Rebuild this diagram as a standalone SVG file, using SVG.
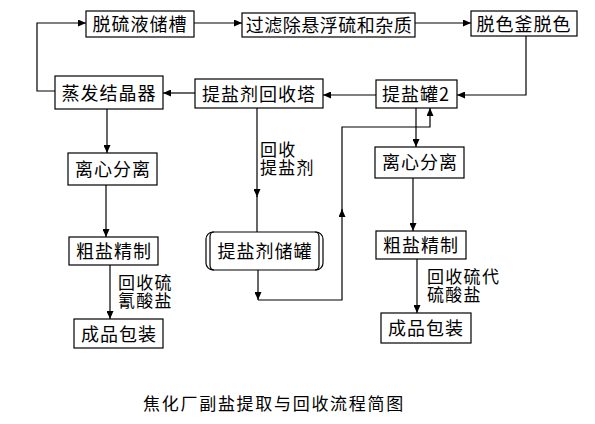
<svg xmlns="http://www.w3.org/2000/svg" width="595" height="424" viewBox="0 0 595 424">
<defs>
<marker id="ah" markerWidth="8" markerHeight="7" refX="8" refY="3.5" orient="auto" markerUnits="userSpaceOnUse"><path d="M0,0 L8,3.5 L0,7 z" fill="#000"/></marker>
<style>
.box{fill:#fff;stroke:#000;stroke-width:1.2}
.t{font-family:"Noto Sans CJK SC","Noto Sans CJK JP",sans-serif;font-size:18px;fill:#000;text-anchor:middle;letter-spacing:1px}
.l{font-family:"Noto Sans CJK SC","Noto Sans CJK JP",sans-serif;font-size:17px;fill:#000;letter-spacing:1.3px}
.c{fill:none;stroke:#000;stroke-width:1.2}
</style>
</defs>
<rect width="595" height="424" fill="#fff"/>
<g id="connectors">
<path class="c" d="M194,23 H242" marker-end="url(#ah)"/>
<path class="c" d="M415,23 H471" marker-end="url(#ah)"/>
<path class="c" d="M526,36 V95 H457" marker-end="url(#ah)"/>
<path class="c" d="M376,95 H323" marker-end="url(#ah)"/>
<path class="c" d="M195,93 H163" marker-end="url(#ah)"/>
<path class="c" d="M55,91 H37 V23 H86" marker-end="url(#ah)"/>
<path class="c" d="M107,109 V153" marker-end="url(#ah)"/>
<path class="c" d="M106,185 V237" marker-end="url(#ah)"/>
<path class="c" d="M110,265 V319" marker-end="url(#ah)"/>
<path class="c" d="M257,108 V197" marker-end="url(#ah)"/>
<path class="c" d="M257,196 V232"/>
<path class="c" d="M258,270 V300" marker-end="url(#ah)"/>
<path class="c" d="M258,300 H342 V210"/>
<path class="c" d="M342,215 V209" marker-end="url(#ah)"/>
<path class="c" d="M342,210 V127 H430 V108" marker-end="url(#ah)"/>
<path class="c" d="M416,108 V147" marker-end="url(#ah)"/>
<path class="c" d="M413,178 V231" marker-end="url(#ah)"/>
<path class="c" d="M417,259 V313" marker-end="url(#ah)"/>
<text class="l" x="260" y="156"><tspan x="260">回收</tspan><tspan x="260" dy="18">提盐剂</tspan></text>
<text class="l" x="118" y="289"><tspan x="118">回收硫</tspan><tspan x="118" dy="18">氰酸盐</tspan></text>
<text class="l" x="427" y="283"><tspan x="427">回收硫代</tspan><tspan x="427" dy="18">硫酸盐</tspan></text>
</g>
<g id="n1"><rect class="box" x="86" y="11" width="108" height="26"/><text class="t" x="140" y="31">脱硫液储槽</text></g>
<g id="n2"><rect class="box" x="242" y="13" width="173" height="24"/><text class="t" x="329" y="32" style="letter-spacing:0.5px">过滤除悬浮硫和杂质</text></g>
<g id="n3"><rect class="box" x="471" y="11" width="106" height="25"/><text class="t" x="524" y="31">脱色釜脱色</text></g>
<g id="n4"><rect class="box" x="376" y="80" width="81" height="28"/><text class="t" x="416" y="101">提盐罐2</text></g>
<g id="n5"><rect class="box" x="195" y="79" width="128" height="29"/><text class="t" x="259" y="101">提盐剂回收塔</text></g>
<g id="n6"><rect class="box" x="55" y="76" width="108" height="33"/><text class="t" x="109" y="100">蒸发结晶器</text></g>
<g id="n7"><rect class="box" x="68" y="153" width="89" height="32"/><text class="t" x="113" y="176">离心分离</text></g>
<g id="n8"><rect class="box" x="69" y="237" width="89" height="28"/><text class="t" x="114" y="258">粗盐精制</text></g>
<g id="n9"><rect class="box" x="74" y="319" width="89" height="29"/><text class="t" x="119" y="341">成品包装</text></g>
<g id="n10"><rect class="box" x="206" y="232" width="117" height="38" rx="7"/><path class="c" d="M214,232 Q210,232 210,237 V265 Q210,270 214,270 M315,232 Q319,232 319,237 V265 Q319,270 315,270"/><text class="t" x="265" y="258">提盐剂储罐</text></g>
<g id="n11"><rect class="box" x="375" y="147" width="89" height="31"/><text class="t" x="420" y="169">离心分离</text></g>
<g id="n12"><rect class="box" x="376" y="231" width="90" height="28"/><text class="t" x="421" y="252">粗盐精制</text></g>
<g id="n13"><rect class="box" x="381" y="313" width="90" height="30"/><text class="t" x="426" y="335">成品包装</text></g>
<text id="title" class="t" x="274" y="410" style="font-size:17px;letter-spacing:1.7px">焦化厂副盐提取与回收流程简图</text>
</svg>
